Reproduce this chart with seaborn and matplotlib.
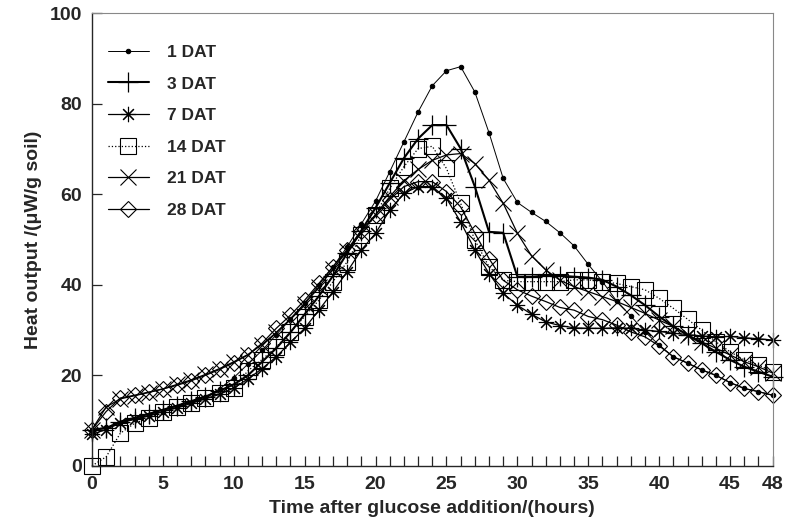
import matplotlib
matplotlib.use("Agg")
import matplotlib.pyplot as plt
import seaborn as sns
import pandas as pd

# hourly readings, 0-48 h after glucose addition
hours = list(range(49))

dat_1 = [8, 8.5, 9.5, 10.3, 11.2, 12, 13, 14, 15.2, 17, 19.5, 22.5, 25.5, 29, 32.5,
         36, 40, 44, 48.4, 53.5, 58.5, 65, 71.6, 78.2, 84, 87.3, 88.2, 82.6, 73.6,
         63.5, 58.2, 56, 54, 51.5, 48.6, 44.5, 40.7, 36.4, 33.1, 29.6, 26.7, 24.1,
         22.7, 21.2, 20, 18.4, 17.1, 16.4, 15.6]
dat_3 = [8, 8.3, 9.8, 10.6, 11.5, 12.4, 13.3, 14.3, 15.3, 16.6, 18, 20, 23, 26, 29.5,
         33.5, 37.5, 42, 47, 52, 57, 62.5, 68, 72.3, 75.3, 75.3, 70.1, 61.7, 51.7,
         51.5, 41.8, 41.8, 42, 42, 41.8, 41.6, 41.1, 39.6, 37.7, 35.5, 33, 30.8,
         28.9, 27.1, 25.2, 23.4, 21.9, 20.8, 19.7]
dat_7 = [7, 8, 9.5, 10.3, 11, 12, 12.8, 13.8, 14.8, 15.8, 17.2, 19.2, 21.5, 24.1, 27.3,
         30.4, 34.4, 38.5, 42.9, 47.7, 51.4, 56.5, 60.2, 61.7, 61.7, 59.1, 53.9,
         47.7, 42.5, 38.1, 35.5, 33.5, 31.8, 31, 30.5, 30.4, 30.4, 30.5, 30.4, 30,
         29.7, 29.3, 29, 28.7, 28.5, 28.6, 28.3, 28.1, 27.8]
dat_14 = [0, 2, 7.2, 9.4, 10.5, 12, 13, 14, 15, 16, 17.3, 21, 23.5, 26.3, 29.6, 33,
          36.6, 40.7, 45.1, 51, 55.5, 61.3, 66.1, 70.1, 70.6, 65.7, 58, 49.9, 44, 41,
          40.7, 40.7, 40.7, 40.7, 41.1, 41.1, 40.7, 40.3, 39.6, 38.9, 37, 34.8, 32.4,
          30, 27.4, 25.2, 23.4, 22.3, 20.8]
dat_21 = [8, 13, 14.8, 15.5, 16.2, 17, 18, 19, 20.2, 21.5, 23, 24.6, 26.8, 29.5, 32.5,
          35.8, 39.5, 43.5, 47.5, 51.5, 55.5, 59.5, 63, 65.5, 67.5, 68.7, 69, 66.8,
          63.1, 58, 51.4, 46.4, 43.3, 41, 39.6, 38.5, 37.4, 36.3, 35, 33.7, 32.2,
          30.8, 28.9, 27.4, 26, 24.5, 23, 21.9, 20.5]
dat_28 = [8, 12, 15, 15.6, 16.3, 17, 17.8, 18.8, 20, 21.3, 22.8, 24.5, 27.1, 30.4, 33.3,
          36.6, 40.3, 44, 47.8, 52, 55.5, 58.8, 61.7, 62.8, 62.8, 60.6, 57.2, 51.4,
          45.8, 41, 38.9, 37.5, 36.3, 35, 34.4, 33, 32.3, 31.1, 29.6, 28.5, 26.5,
          24.1, 22.7, 21.2, 20, 18.4, 17.1, 16.4, 15.6]

labels = ["1 DAT", "3 DAT", "7 DAT", "14 DAT", "21 DAT", "28 DAT"]
series = [dat_1, dat_3, dat_7, dat_14, dat_21, dat_28]

df = pd.DataFrame({
    "hours": hours * len(series),
    "heat": [v for s in series for v in s],
    "treatment": [lab for lab in labels for _ in hours],
})

styles = {
    "1 DAT": dict(marker="o", markersize=3.2, linewidth=0.7, linestyle="-",
                  markerfacecolor="black"),
    "3 DAT": dict(marker="+", markersize=14, linewidth=1.5, linestyle="-",
                  markeredgewidth=0.9),
    "7 DAT": dict(marker=(8, 2, 0), markersize=11, linewidth=0.9, linestyle="-",
                  markeredgewidth=0.8),
    "14 DAT": dict(marker="s", markersize=11, linewidth=0.9, linestyle=":",
                   markerfacecolor="none", markeredgewidth=0.8),
    "21 DAT": dict(marker="x", markersize=11, linewidth=0.9, linestyle="-",
                   markeredgewidth=0.8),
    "28 DAT": dict(marker="D", markersize=8, linewidth=0.9, linestyle="-",
                   markerfacecolor="none", markeredgewidth=0.8),
}

sns.set_style("ticks")
plt.rcParams["font.family"] = ["Liberation Sans", "DejaVu Sans"]
plt.rcParams["font.weight"] = "bold"

fig = plt.figure(figsize=(7.86, 5.3), dpi=100)
ax = fig.add_axes([0.117, 0.121, 0.866, 0.854])

for lab in labels:
    sub = df[df["treatment"] == lab]
    sns.lineplot(data=sub, x="hours", y="heat", ax=ax, color="black",
                 markeredgecolor="black", label=lab, clip_on=False,
                 **styles[lab])

ax.set_xlim(0, 48)
ax.set_ylim(0, 100)
ax.set_xticks([0, 5, 10, 15, 20, 25, 30, 35, 40, 45, 48])
ax.set_xticks(range(49), minor=True)
ax.set_yticks([0, 20, 40, 60, 80, 100])
ax.tick_params(axis="both", which="both", direction="in", length=7, width=0.9,
               labelsize=14, pad=7)
ax.tick_params(axis="y", which="minor", length=0)
for t in ax.get_xticklabels() + ax.get_yticklabels():
    t.set_fontweight("bold")

for side in ["top", "right"]:
    ax.spines[side].set_color("#888888")
    ax.spines[side].set_linewidth(0.8)
for side in ["left", "bottom"]:
    ax.spines[side].set_linewidth(1.0)

ax.set_xlabel("Time after glucose addition/(hours)", fontsize=14,
              fontweight="bold", labelpad=5)
ax.set_ylabel("Heat output /(\u03bcW/g soil)", fontsize=14,
              fontweight="bold", labelpad=6)

leg = ax.legend(loc="upper left", bbox_to_anchor=(0.0, 0.965), frameon=False,
                handlelength=2.4, labelspacing=0.95, handletextpad=1.0,
                prop={"size": 12.5, "weight": "bold"})

fig.savefig("out.png", dpi=100)
plt.close(fig)
